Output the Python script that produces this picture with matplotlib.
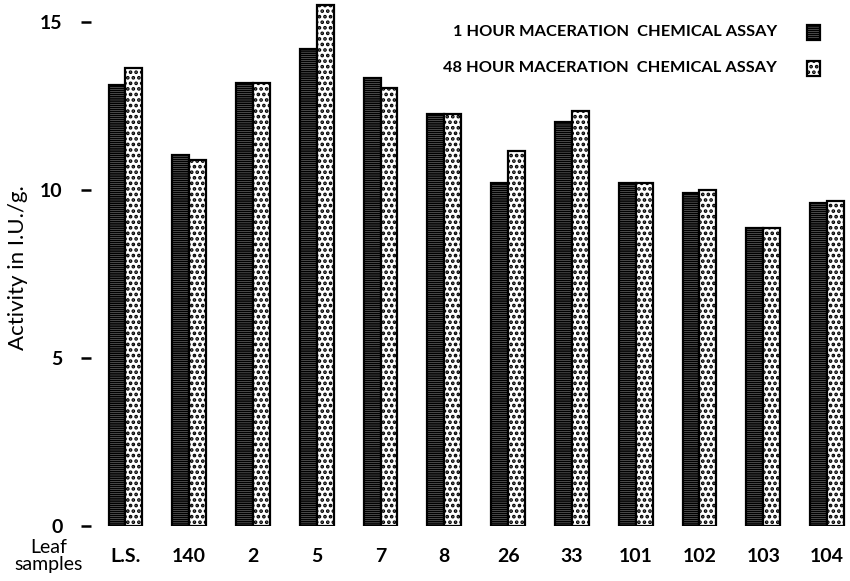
import numpy as np
import matplotlib as mpl
mpl.use("Agg")
import matplotlib.pyplot as plt
from matplotlib.patches import Rectangle

plt.rcParams['font.family'] = ['Lato', 'DejaVu Sans']

# leaf samples and activity values (I.U./g.)
samples = ["L.S.", "140", "2", "5", "7", "8", "26", "33", "101", "102", "103", "104"]
hour1 = [13.12, 11.04, 13.18, 14.2, 13.33, 12.26, 10.2, 12.02, 10.2, 9.91, 8.87, 9.61]
hour48 = [13.63, 10.89, 13.18, 15.5, 13.04, 12.26, 11.16, 12.35, 10.2, 10.0, 8.87, 9.67]

stripes = '--------'
dots = '...'

fig = plt.figure(figsize=(8.5, 5.81), dpi=100)
ax = fig.add_axes([91/850, 55/581, 1 - 91/850, 526/581])

x = np.arange(len(samples))
w = 0.265
with plt.rc_context({'hatch.linewidth': 1.3}):
    ax.bar(x - w/2, hour1, w, facecolor='white', edgecolor='black', hatch=stripes, linewidth=1.6)
with plt.rc_context({'hatch.linewidth': 1.8}):
    ax.bar(x + w/2, hour48, w, facecolor='white', edgecolor='black', hatch=dots, linewidth=1.6)

ax.set_xlim(-0.54, 11.36)
ax.set_ylim(0, 15.65)
for s in ax.spines.values():
    s.set_visible(False)

ax.set_yticks([0, 5, 10, 15])
ax.set_yticklabels(["0", "5", "10", "15"], fontsize=14, fontweight='bold')
ax.tick_params(axis='y', length=7.5, width=1.8, pad=13, direction='out')
ax.set_xticks(x)
ax.set_xticklabels(samples, fontsize=14, fontweight='bold')
ax.tick_params(axis='x', length=0, pad=16)

fig.text(18/850, 1 - 268/581, "Activity in I.U./g.", fontsize=16, rotation=90,
         ha='center', va='center')

fig.text(49/850, 1 - 556/581, "Leaf\nsamples", fontsize=14, ha='center', va='center',
         linespacing=1.0)

# legend
fig.text(777/850, 1 - 32/581, "1 HOUR MACERATION  CHEMICAL ASSAY", fontsize=11.8,
         fontweight='bold', ha='right', va='center')
fig.text(777/850, 1 - 68/581, "48 HOUR MACERATION  CHEMICAL ASSAY", fontsize=11.8,
         fontweight='bold', ha='right', va='center')
with plt.rc_context({'hatch.linewidth': 1.3}):
    fig.add_artist(Rectangle((807/850, 1 - 40/581), 13/850, 15/581, transform=fig.transFigure,
                             facecolor='white', edgecolor='black', hatch=stripes, linewidth=1.6))
with plt.rc_context({'hatch.linewidth': 1.8}):
    fig.add_artist(Rectangle((807/850, 1 - 76/581), 13/850, 15/581, transform=fig.transFigure,
                             facecolor='white', edgecolor='black', hatch=dots, linewidth=1.6))

fig.savefig("out.png", dpi=100)
